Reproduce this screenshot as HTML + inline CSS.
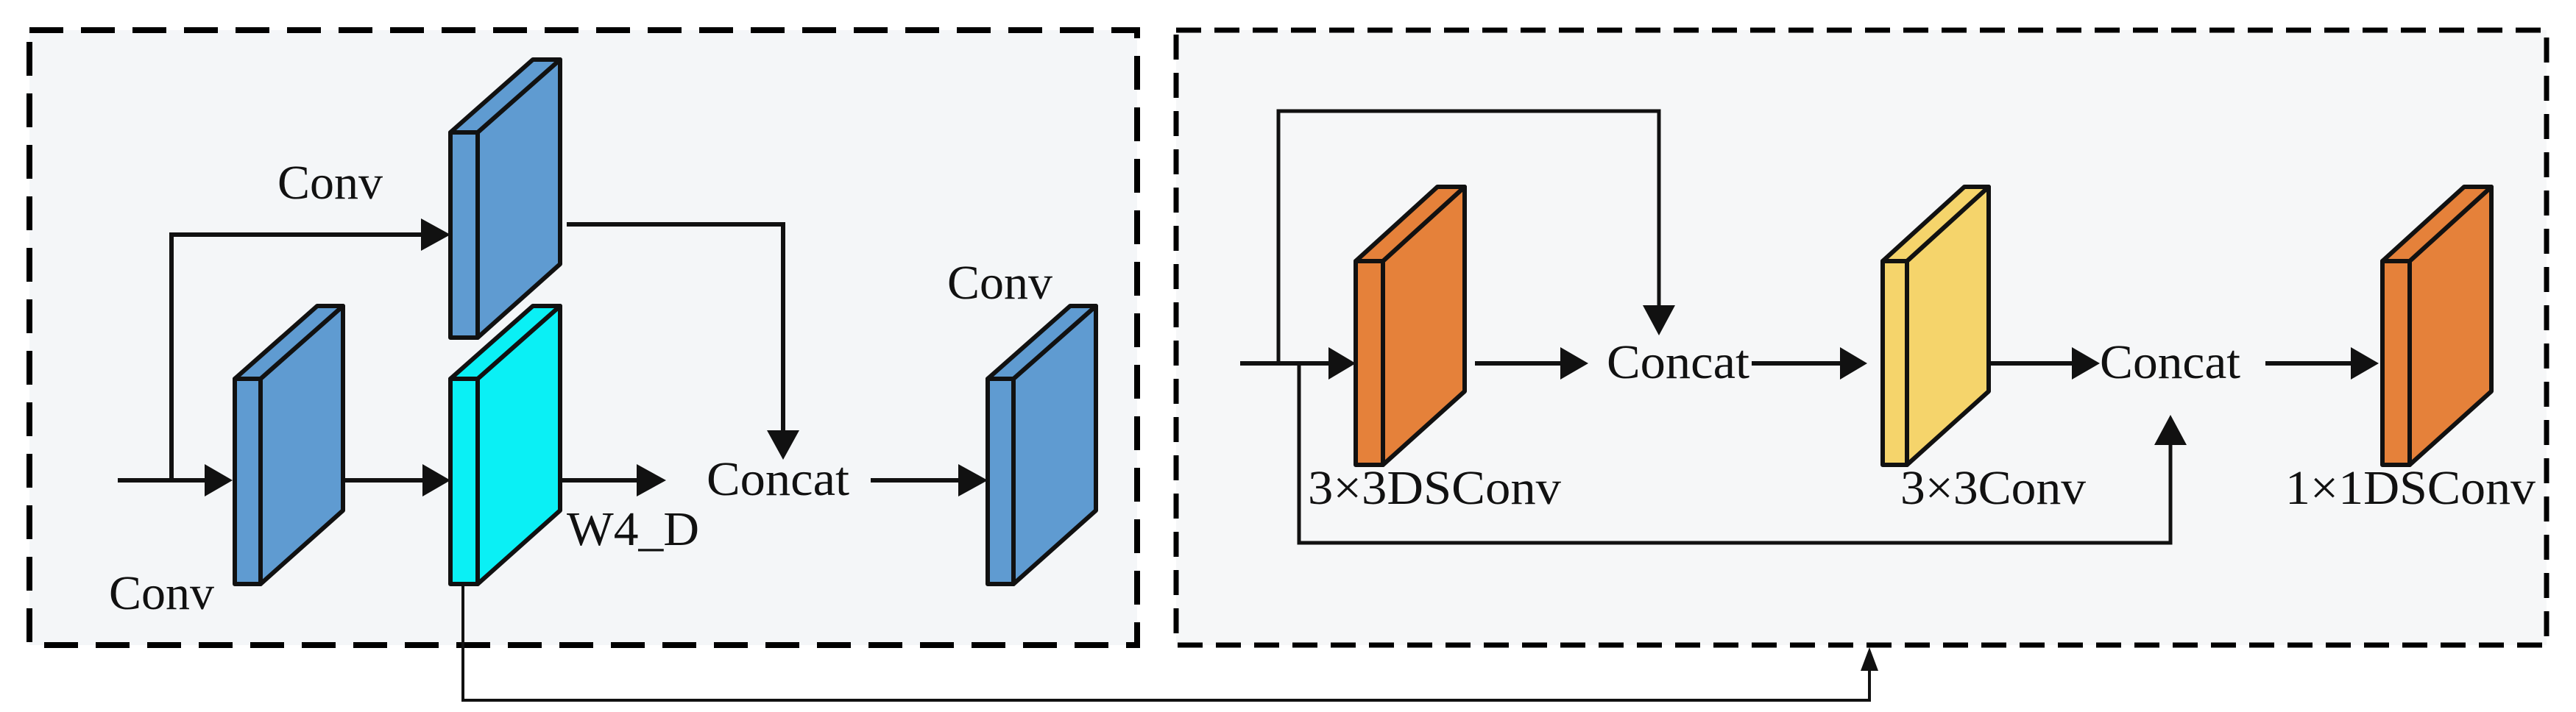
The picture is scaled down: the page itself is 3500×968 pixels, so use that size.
<!DOCTYPE html>
<html><head><style>html,body{margin:0;padding:0;background:#fff}svg{display:block}</style></head><body>
<svg width="3500" height="968" viewBox="0 0 3500 968" xmlns="http://www.w3.org/2000/svg">
<defs>
<marker id="ah" markerWidth="10" markerHeight="10" refX="9" refY="5" orient="auto" markerUnits="userSpaceOnUse" viewBox="0 0 10 10">
</marker>
</defs>
<rect x="40" y="41" width="1505" height="836" fill="#f4f6f8" stroke="#000" stroke-width="8" stroke-dasharray="46,24"/>
<rect x="1598" y="41" width="1862" height="836" fill="#f6f7f8" stroke="#000" stroke-width="7" stroke-dasharray="34,18"/>
<g stroke="#111" stroke-width="6" fill="none">
<!-- left -->
<polyline points="160,653 285,653"/>
<polyline points="233,653 233,319 575,319"/>
<polyline points="770,305 1064,305 1064,590"/>
<polyline points="452,653 580,653"/>
<polyline points="750,653 870,653"/>
<polyline points="1183,653 1305,653"/>
<polyline points="629,794 629,952 2540,952 2540,910" stroke-width="4"/>
<!-- right -->
<polyline points="1685,494 1810,494"/>
<polyline points="1737,494 1737,151 2254,151 2254,420" stroke-width="5"/>
<polyline points="1765,494 1765,738 2949,738 2949,600" stroke-width="5"/>
<polyline points="2004,494 2125,494"/>
<polyline points="2380,494 2505,494"/>
<polyline points="2702,494 2820,494"/>
<polyline points="3078,494 3200,494"/>
</g>
<g fill="#111">
<polygon points="316,653 278,631 278,675"/>
<polygon points="612,319 572,297 572,341"/>
<polygon points="1064,625 1042,585 1086,585"/>
<polygon points="612,653 574,631 574,675"/>
<polygon points="905,653 865,631 865,675"/>
<polygon points="1342,653 1302,631 1302,675"/>
<polygon points="2540,880 2528,912 2552,912"/>
<polygon points="1842,494 1805,472 1805,516"/>
<polygon points="2254,456 2232,415 2276,415"/>
<polygon points="2949,564 2927,605 2971,605"/>
<polygon points="2158,494 2120,472 2120,516"/>
<polygon points="2537,494 2500,472 2500,516"/>
<polygon points="2853,494 2815,472 2815,516"/>
<polygon points="3232,494 3194,472 3194,516"/>
</g>
<g stroke="#111" stroke-width="6" stroke-linejoin="round">
<!-- block helper: front x1-x2,y1-y2, offset 112,-99 -->
<g fill="#5f9bd1">
<polygon points="354,515 466,416 466,694 354,794"/><polygon points="319,515 431,416 466,416 354,515"/><rect x="319" y="515" width="35" height="279"/>
<polygon points="649,180 761,81 761,359 649,459"/><polygon points="612,180 724,81 761,81 649,180"/><rect x="612" y="180" width="37" height="279"/>
<polygon points="1377,515 1489,416 1489,694 1377,794"/><polygon points="1342,515 1454,416 1489,416 1377,515"/><rect x="1342" y="515" width="35" height="279"/>
</g>
<g fill="#0af0f5">
<polygon points="649,515 761,416 761,694 649,794"/><polygon points="612,515 724,416 761,416 649,515"/><rect x="612" y="515" width="37" height="279"/>
</g>
<g fill="#e5813a">
<polygon points="1879,355 1990,254 1990,532 1879,632"/><polygon points="1842,355 1953,254 1990,254 1879,355"/><rect x="1842" y="355" width="37" height="277"/>
<polygon points="3274,355 3385,254 3385,532 3274,632"/><polygon points="3237,355 3348,254 3385,254 3274,355"/><rect x="3237" y="355" width="37" height="277"/>
</g>
<g fill="#f5d46b">
<polygon points="2591,355 2702,254 2702,532 2591,632"/><polygon points="2558,355 2669,254 2702,254 2591,355"/><rect x="2558" y="355" width="33" height="277"/>
</g>
</g>
<g font-family="Liberation Serif, serif" font-size="66" fill="#111">
<text x="377" y="270" textLength="143" lengthAdjust="spacingAndGlyphs">Conv</text>
<text x="148" y="828" textLength="143" lengthAdjust="spacingAndGlyphs">Conv</text>
<text x="1287" y="406" textLength="143" lengthAdjust="spacingAndGlyphs">Conv</text>
<text x="770" y="741" textLength="180" lengthAdjust="spacingAndGlyphs">W4_D</text>
<text x="960" y="673" textLength="194" lengthAdjust="spacingAndGlyphs">Concat</text>
<text x="2183" y="514" textLength="194" lengthAdjust="spacingAndGlyphs">Concat</text>
<text x="2853" y="514" textLength="191" lengthAdjust="spacingAndGlyphs">Concat</text>
<text x="1777" y="685" textLength="344" lengthAdjust="spacingAndGlyphs">3×3DSConv</text>
<text x="2582" y="685" textLength="252" lengthAdjust="spacingAndGlyphs">3×3Conv</text>
<text x="3105" y="685" textLength="340" lengthAdjust="spacingAndGlyphs">1×1DSConv</text>
</g>
</svg>
</body></html>
